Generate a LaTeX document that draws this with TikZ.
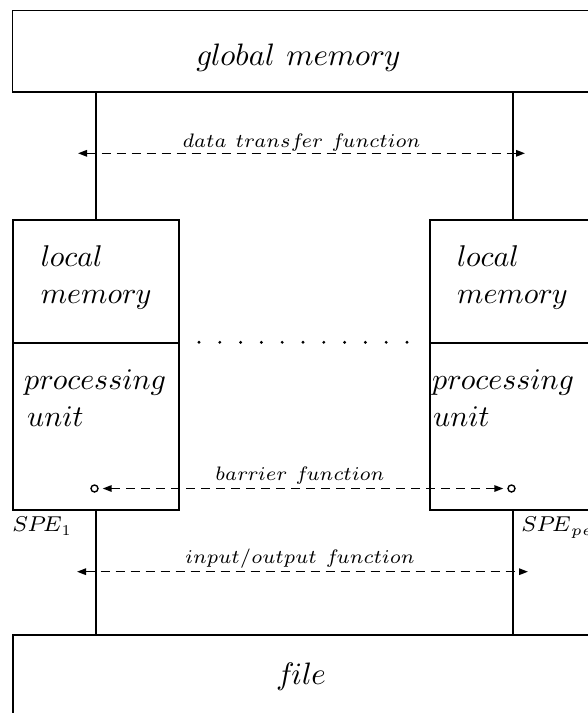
\documentclass[tikz,border=0pt]{standalone}
\usetikzlibrary{arrows.meta}
% math italic faces used for all labels
\font\headmi=cmmi10 at 31pt
\font\boxmi=cmmi10 at 30pt
\font\labmi=cmmi7 at 19.5pt
\font\spemi=cmmi7 at 21.5pt
\font\submi=cmmi5 at 15pt
\font\subrm=cmr7 at 15pt
\fontdimen2\headmi=12pt
\fontdimen2\labmi=9pt
\tikzset{
  box/.style={draw, line width=1.8pt, inner sep=0pt, anchor=north west},
  wire/.style={line width=1.8pt},
  msg/.style={line width=1.5pt, dash pattern=on 9pt off 6pt,
    {Triangle[length=9pt,width=6.5pt]}-{Triangle[length=9pt,width=6.5pt]}},
  port/.style={circle, draw, line width=1.4pt, inner sep=0pt, minimum size=7pt},
  txt/.style={inner sep=0pt, anchor=base west},
  lab/.style={inner sep=0pt, anchor=base},
}
\begin{document}
\begin{tikzpicture}[x=1pt,y=-1pt]
\useasboundingbox (0,0) rectangle (588,713);
\clip (0,0) rectangle (588,713);

% global memory and file
\node[box, minimum width=583.5pt, minimum height=81.2pt] (gm) at (11.5,9.5) {};
\node[lab] (gmtxt) at (298,65) {\headmi global memory};
\node[box, minimum width=583.5pt, minimum height=100pt] (file) at (11.7,634) {};
\node[lab] (filetxt) at (301,684) {\headmi file};

% the two processing elements
\node[box, minimum width=166pt, minimum height=122.7pt] (lm1) at (12,219) {};
\node[box, minimum width=166pt, minimum height=167.3pt] (pu1) at (12,341.7) {};
\node[box, minimum width=166pt, minimum height=122.7pt] (lm2) at (429,219) {};
\node[box, minimum width=166pt, minimum height=167.3pt] (pu2) at (429,341.7) {};

\node[txt] (l1a) at (40.7,266) {\boxmi local};
\node[txt] (l1b) at (40.7,303.5) {\boxmi memory};
\node[txt] (p1a) at (24,389) {\boxmi processing};
\node[txt] (p1b) at (27,426) {\boxmi unit};
\node[txt] (l2a) at (457,266) {\boxmi local};
\node[txt] (l2b) at (457,303.5) {\boxmi memory};
\node[txt] (p2a) at (432,389) {\boxmi processing};
\node[txt] (p2b) at (433,426) {\boxmi unit};

\node[txt] (spe1) at (12,531) {\spemi SPE\kern1pt\lower4.5pt\hbox{\subrm 1}};
\node[txt] (spe2) at (521,531) {\spemi SPE\kern1pt\lower4.5pt\hbox{\submi pe}};

% dots between the elements
\foreach \i in {0,...,10}
  \fill (199+20.8*\i,342.3) circle (1.6pt);

% vertical links
\draw[wire] (lm1.north |- gm.south) -- (lm1.north);
\draw[wire] (lm2.north |- gm.south) -- (lm2.north);
\draw[wire] (pu1.south) -- (pu1.south |- file.north);
\draw[wire] (pu2.south) -- (pu2.south |- file.north);

% data transfer
\coordinate (dtL) at (78,153.3);
\coordinate (dtR) at (525,153.3);
\draw[msg] (dtL) -- (dtR);
\node[lab] (dtf) at (301.5,147) {\labmi data transfer function};

% barrier
\node[port] (bL) at (94.5,488.5) {};
\node[port] (bR) at (511.5,488.5) {};
\draw[msg, shorten <=4pt, shorten >=4pt] (bL) -- (bR);
\node[lab] (bf) at (300,480) {\labmi barrier function};

% input/output
\coordinate (ioL) at (77,571.7);
\coordinate (ioR) at (528,571.7);
\draw[msg] (ioL) -- (ioR);
\node[lab] (iof) at (300,563) {\labmi input{\char"3D}output function};
\end{tikzpicture}
\end{document}
